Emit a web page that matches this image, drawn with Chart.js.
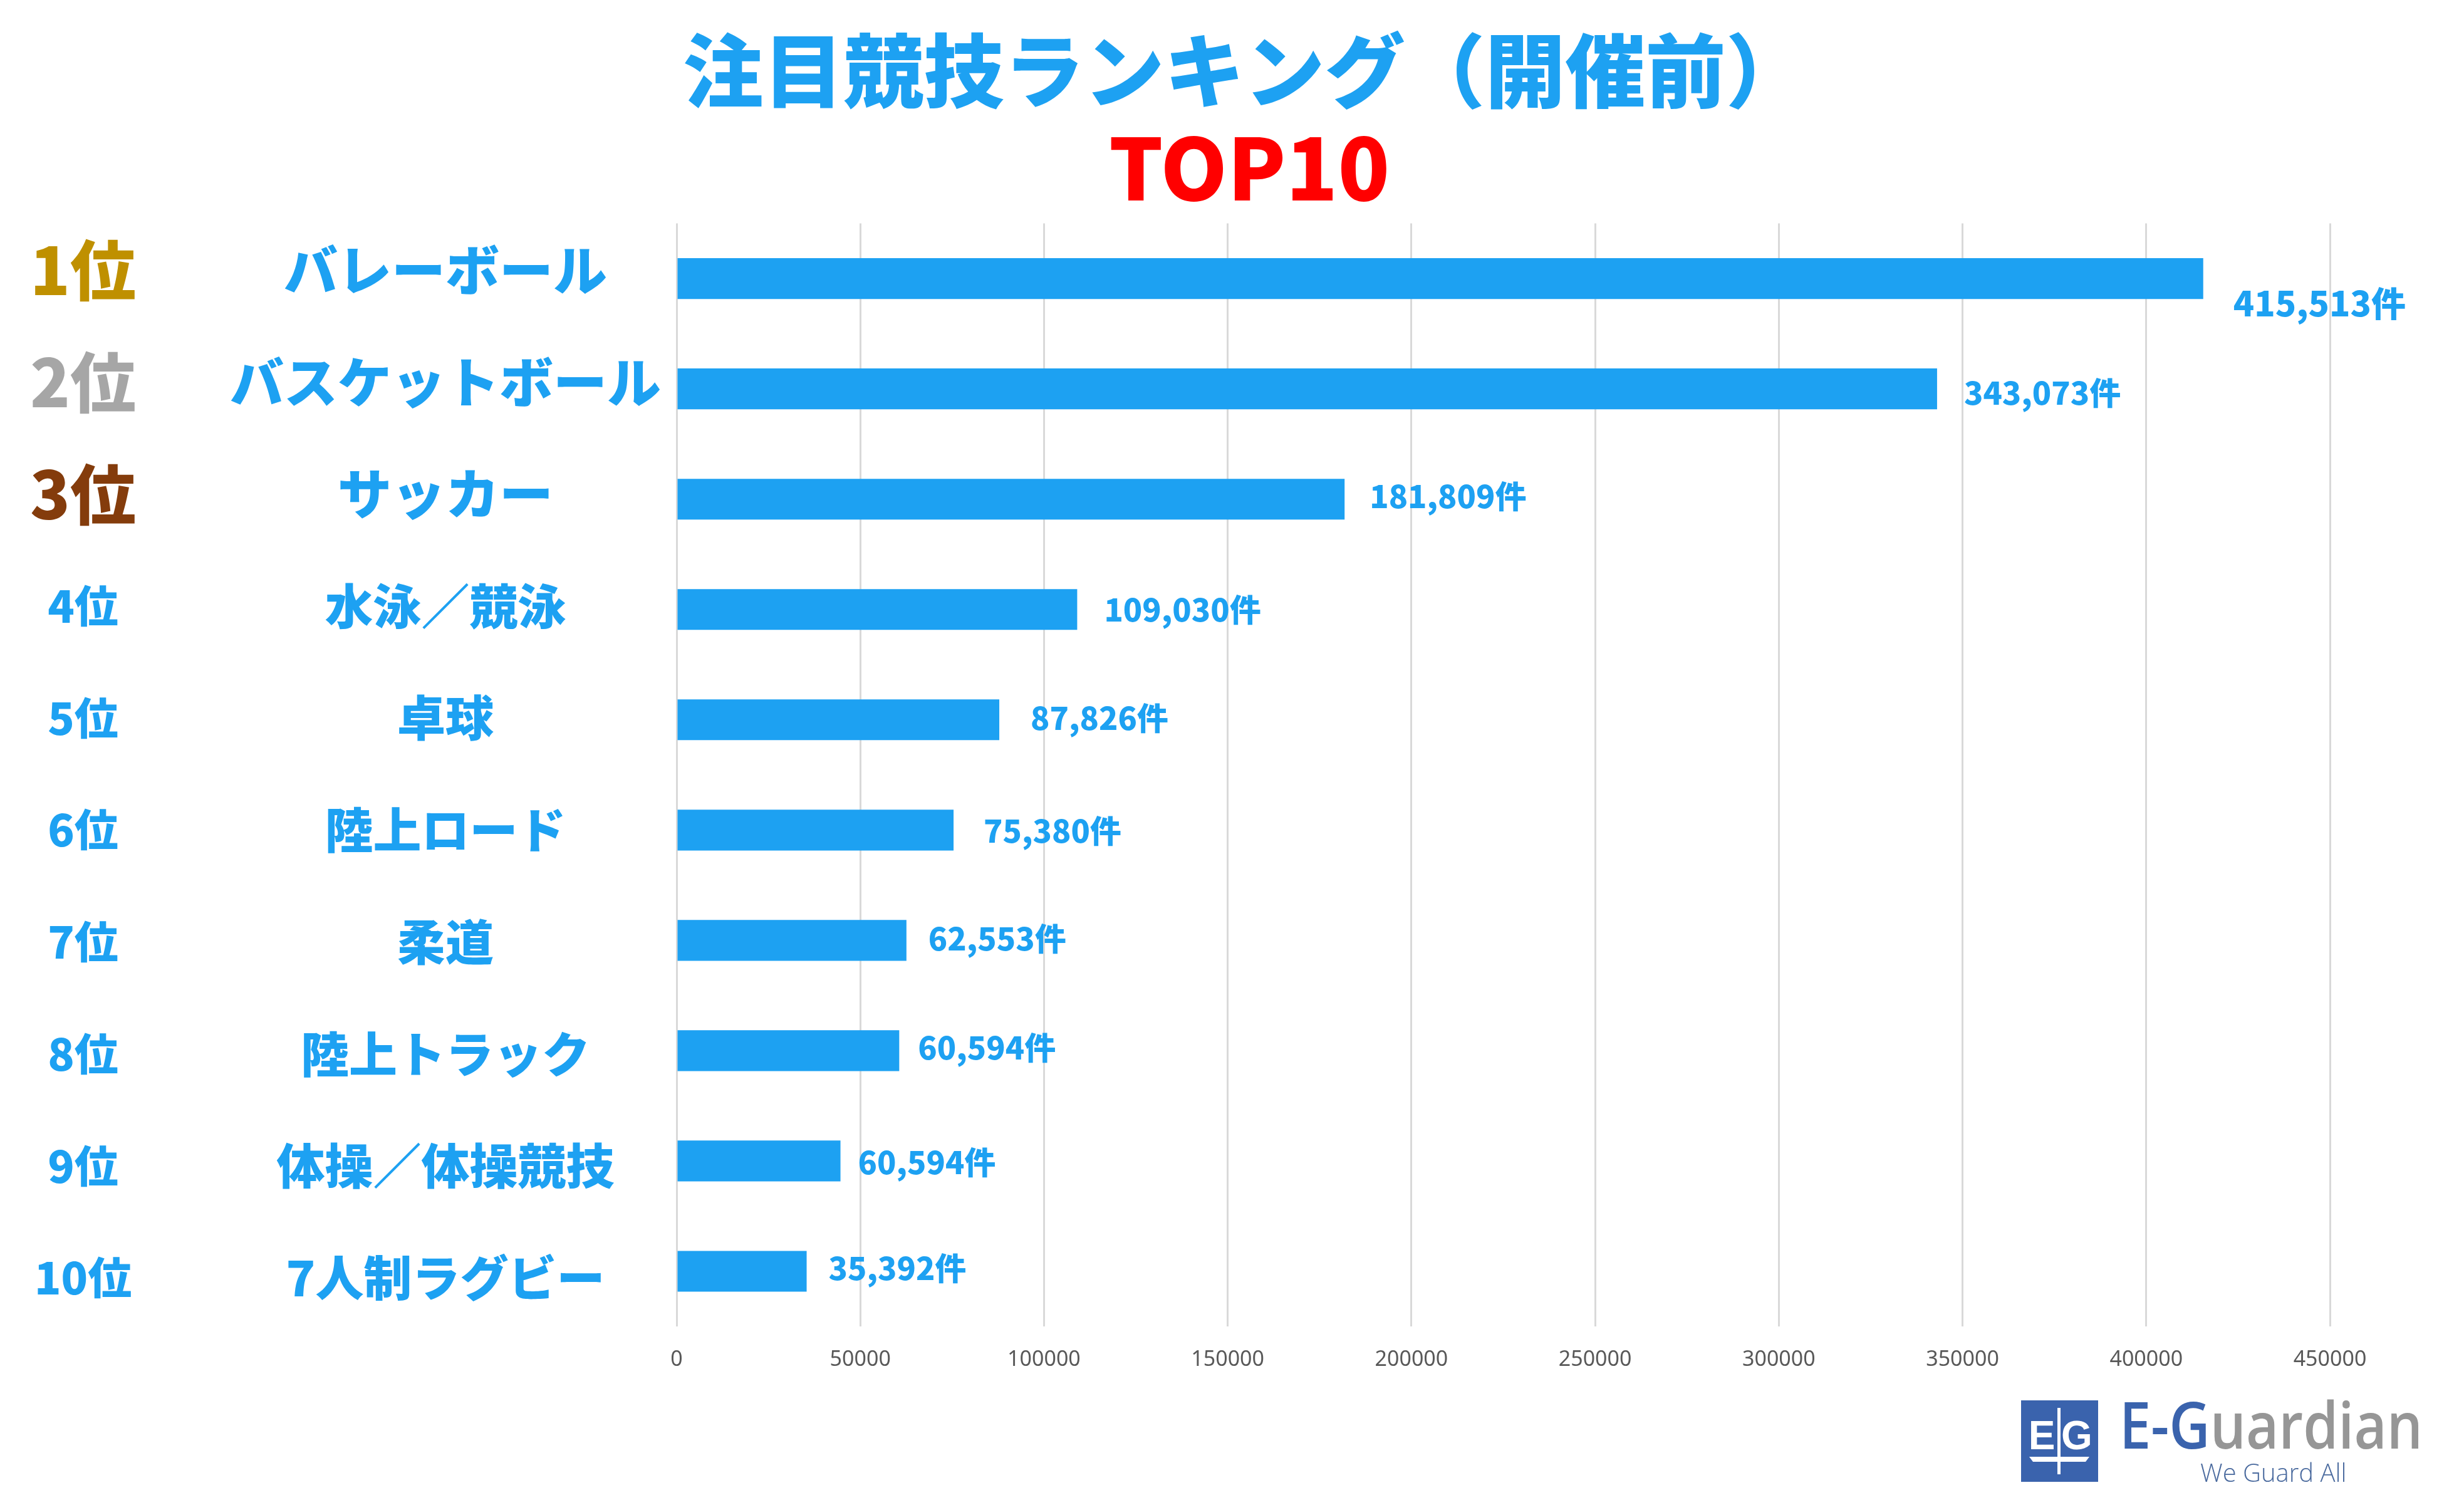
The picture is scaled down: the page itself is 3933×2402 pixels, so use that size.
<!DOCTYPE html>
<html lang="ja">
<head>
<meta charset="utf-8">
<title>注目競技ランキング</title>
<script src="https://cdn.jsdelivr.net/npm/chart.js@4/dist/chart.umd.min.js"></script>
<style>html,body{margin:0;padding:0;background:#fff}#box{width:3933px;height:2402px;position:relative}</style>
</head>
<body>
<div id="box"><canvas id="c"></canvas></div>
<script>
const titleText = "注目競技ランキング（開催前）";
const subtitleText = "TOP10";
const ranks = ["1位","2位","3位","4位","5位","6位","7位","8位","9位","10位"];
const sports = ["バレーボール","バスケットボール","サッカー","水泳／競泳","卓球","陸上ロード","柔道","陸上トラック","体操／体操競技","7人制ラグビー"];
const counts = [415513,343073,181809,109030,87826,75380,62553,60594,44600,35392];
const countLabels = ["415,513件","343,073件","181,809件","109,030件","87,826件","75,380件","62,553件","60,594件","60,594件","35,392件"];

const BLUE = "#1da1f2";
const JP = '"Noto Sans CJK JP"';
const rankColors = ["#bf9000","#a6a6a6","#843c0c"];
const labelDX = [48,43,40,43,50,48,35,30,28,35];
const labelDY = [39,6,-5,0,-3,1,-3,-5,2,-5];
const labelSize = [55,50,50,50,50,50,50,50,50,50];

const labelsPlugin = {
  id: "labelsPlugin",
  afterLayout(chart) {
    // the name and rank columns run on a slightly wider pitch than the bars
    for (const id of ["name","rank"]) {
      const s = chart.scales[id];
      s._startPixel = 342; s._length = 1787; s._endPixel = 342 + 1787;
      s._labelItems = null;
    }
  },
  afterDatasetsDraw(chart) {
    const c = chart.ctx;
    const meta = chart.getDatasetMeta(0);
    c.save();
    c.fillStyle = BLUE;
    c.textAlign = "left";
    c.textBaseline = "middle";
    meta.data.forEach((bar, i) => {
      c.font = `900 ${labelSize[i]}px ${JP}`;
      c.fillText(countLabels[i], bar.x + labelDX[i], bar.y + labelDY[i]);
    });
    // sub title
    c.fillStyle = "#ff0000";
    c.font = `900 136px ${JP}`;
    c.textAlign = "center";
    c.fillText(subtitleText, 1994, 268);
    // logo
    c.fillStyle = "#3a63ad";
    c.fillRect(3226, 2235, 123, 130);
    c.fillStyle = "#fff";
    c.font = `700 64px "Liberation Sans Narrow", "Liberation Sans"`;
    c.textAlign = "center";
    c.textBaseline = "alphabetic";
    c.fillText("E", 3259, 2313);
    c.fillText("G", 3315, 2313);
    c.fillRect(3284, 2247, 5, 106);
    c.beginPath();
    c.moveTo(3239, 2325); c.lineTo(3335, 2325); c.lineTo(3329, 2333); c.lineTo(3245, 2333);
    c.closePath(); c.fill();
    c.textAlign = "left";
    c.font = `600 104px "Open Sans"`;
    const wa = c.measureText("E-G").width, wb = c.measureText("uardian").width;
    const sx = 484 / (wa + wb);
    c.save();
    c.translate(3383, 2312);
    c.scale(sx, 1);
    c.fillStyle = "#3a63ad";
    c.fillText("E-G", 0, 0);
    c.fillStyle = "#969696";
    c.fillText("uardian", wa, 0);
    c.restore();
    c.fillStyle = "#4a6a9e";
    c.font = `300 40px "Open Sans"`;
    c.fillText("We Guard All", 3512, 2365);
    c.restore();
  }
};

new Chart(document.getElementById("c"), {
  type: "bar",
  plugins: [labelsPlugin],
  data: {
    labels: sports,
    datasets: [{ data: counts, backgroundColor: BLUE, barPercentage: 0.37, categoryPercentage: 1 }]
  },
  options: {
    indexAxis: "y",
    responsive: true,
    maintainAspectRatio: false,
    animation: false,
    layout: { padding: { top: 0, right: 0, bottom: 0, left: 40 } },
    plugins: {
      legend: { display: false },
      tooltip: { enabled: false },
      title: {
        display: true,
        text: titleText,
        color: BLUE,
        font: { family: JP, size: 128, weight: 900, lineHeight: 1.2 },
        padding: { top: 37, bottom: 166 }
      }
    },
    scales: {
      x: {
        type: "linear",
        position: "bottom",
        min: 0, max: 450000,
        afterBuildTicks: s => { s.ticks = []; for (let v = 0; v <= 450000; v += 50000) s.ticks.push({ value: v }); },
        afterFit: s => { s.height = 285; },
        grid: { color: "#d9d9d9", lineWidth: 3, drawTicks: false },
        border: { display: false },
        ticks: { color: "#595959", padding: 33, maxRotation: 0, autoSkip: false,
                 font: { family: '"Noto Sans"', size: 34 }, callback: v => String(v) }
      },
      y: { type: "category", display: false, offset: true, grid: { display: false } },
      spacer: {
        type: "linear", position: "right", display: true,
        afterFit: s => { s.width = 214; },
        grid: { display: false }, border: { display: false }, ticks: { display: false }
      },
      name: {
        type: "category",
        position: "left",
        labels: sports,
        offset: true,
        weight: 0,
        afterFit: s => { s.width = 840; },
        grid: { display: false },
        border: { display: false },
        ticks: { color: BLUE, autoSkip: false, padding: 17, crossAlign: "center",
                 font: ctx => ({ family: JP, size: ctx.index < 3 ? 86 : 77, weight: 900 }) }
      },
      rank: {
        type: "category",
        position: "left",
        labels: ranks,
        offset: true,
        weight: 1,
        afterFit: s => { s.width = 200; },
        grid: { display: false },
        border: { display: false },
        ticks: {
          autoSkip: false, padding: 15, crossAlign: "center",
          color: ctx => rankColors[ctx.index] || BLUE,
          font: ctx => ({ family: JP, weight: 900, size: ctx.index < 3 ? 105 : 70 })
        }
      }
    }
  }
});
</script>
</body>
</html>
